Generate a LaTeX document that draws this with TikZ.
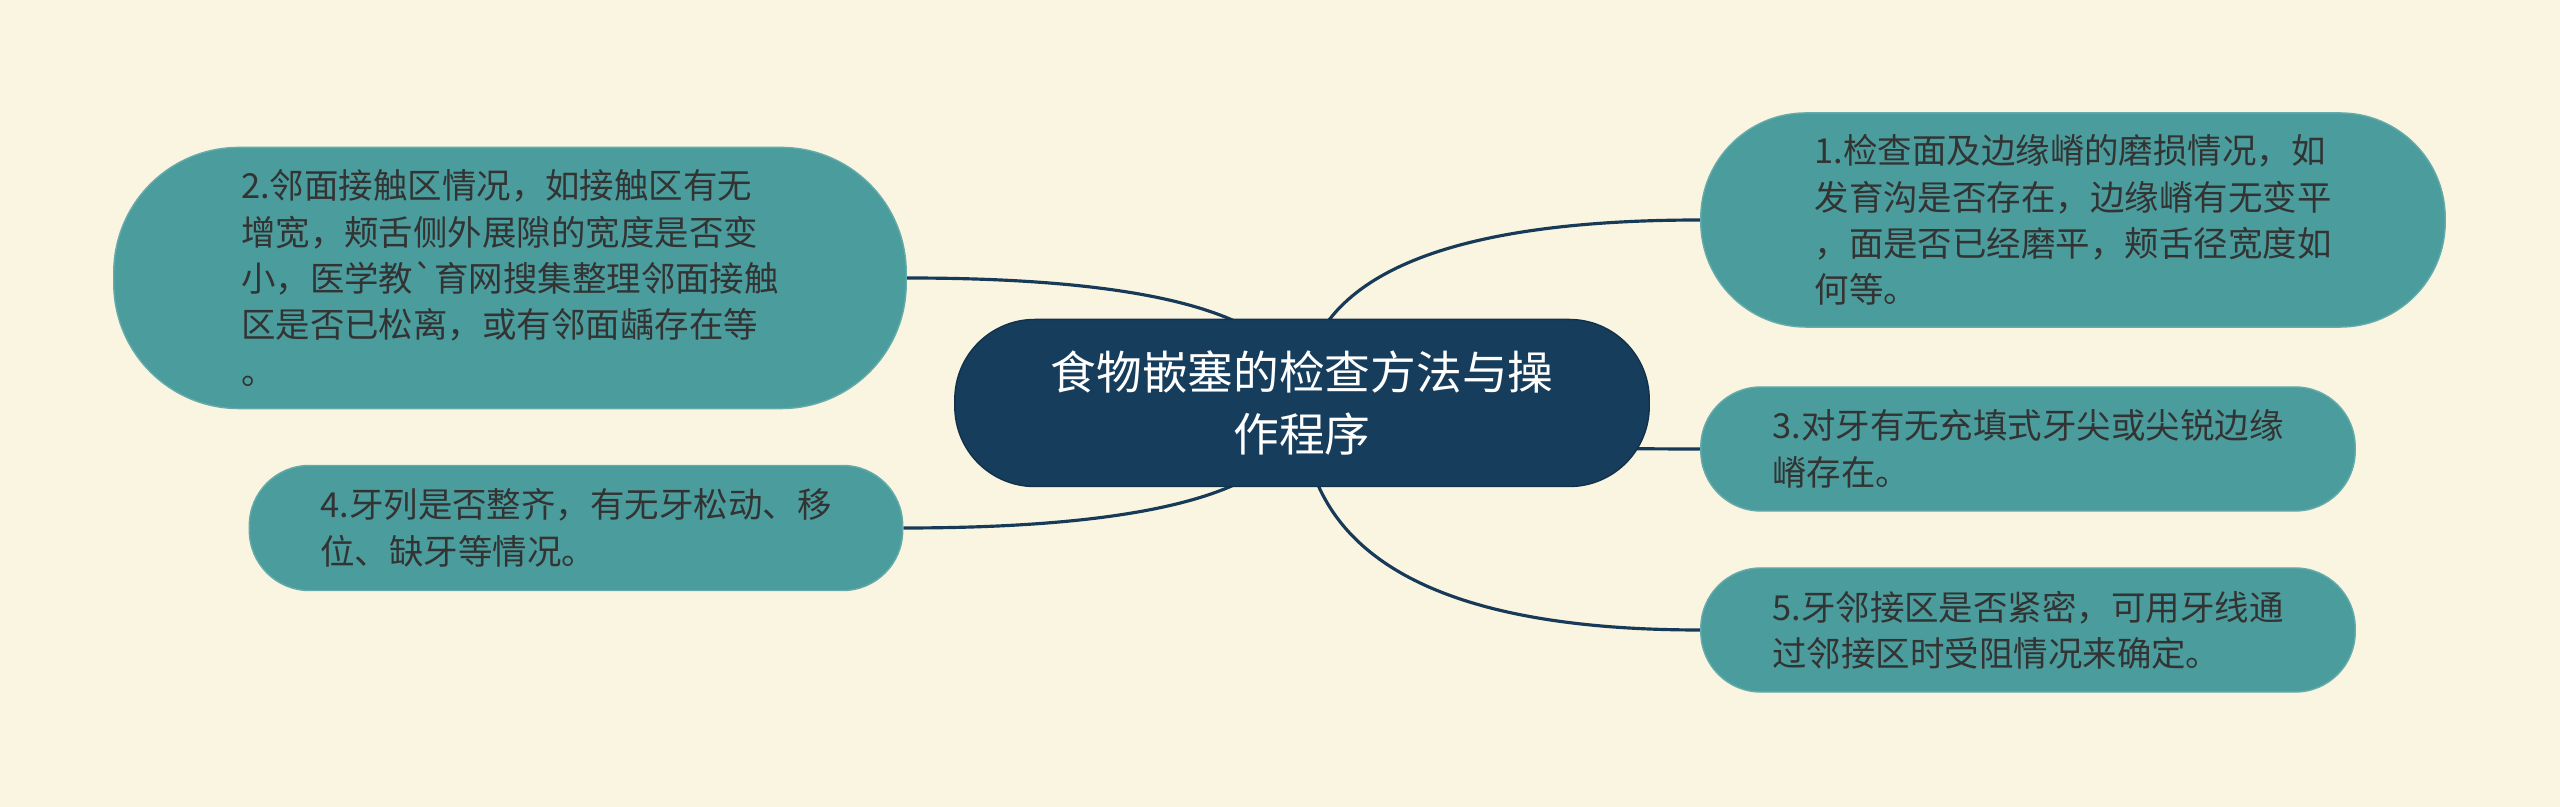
\documentclass[tikz,border=0pt]{standalone}
\usepackage{fontspec}
\newfontfamily\cjk{Noto Sans CJK SC}
\usetikzlibrary{backgrounds,calc}

\definecolor{bgcream}{HTML}{FAF5E0}
\definecolor{rootblue}{HTML}{173D5C}
\definecolor{leafteal}{HTML}{4B9C9C}
\definecolor{leaftext}{HTML}{333333}
\definecolor{linkblue}{HTML}{173A58}

\tikzset{
    topic/.style={fill=rootblue, draw=rootblue!80!black, line width=0.4pt, text=white,
        align=center, font=\cjk\fontsize{13}{17.6}\selectfont, inner sep=0pt},
    subtopic/.style={fill=leafteal, draw=leafteal!85!white, line width=0.4pt, text=leaftext,
        align=left, font=\cjk\fontsize{9.8}{13.2}\selectfont, inner sep=0pt},
    link/.style={draw=linkblue, line width=0.9pt}
}

\begin{document}
\begin{tikzpicture}[x=0.01cm, y=-0.01cm]

    % Central topic
    \node[topic, minimum width=6.94cm, minimum height=1.67cm, rounded corners=0.8cm] (root) at (1302,403)
        {食物嵌塞的检查方法与操\\作程序};

    % Right branches
    \node[subtopic, minimum width=7.44cm, minimum height=2.14cm, rounded corners=1.05cm] (check1) at (2073,220)
        {1.检查面及边缘嵴的磨损情况，如\\发育沟是否存在，边缘嵴有无变平\\，面是否已经磨平，颊舌径宽度如\\何等。};
    \node[subtopic, minimum width=6.54cm, minimum height=1.24cm, rounded corners=0.6cm] (check3) at (2028,449)
        {3.对牙有无充填式牙尖或尖锐边缘\\嵴存在。};
    \node[subtopic, minimum width=6.54cm, minimum height=1.24cm, rounded corners=0.6cm] (check5) at (2028,630)
        {5.牙邻接区是否紧密，可用牙线通\\过邻接区时受阻情况来确定。};

    % Left branches
    \node[subtopic, minimum width=7.92cm, minimum height=2.61cm, rounded corners=1.25cm] (check2) at (510,278)
        {2.邻面接触区情况，如接触区有无\\增宽，颊舌侧外展隙的宽度是否变\\小，医学教\char"60 育网搜集整理邻面接触\\区是否已松离，或有邻面龋存在等\\。};
    \node[subtopic, minimum width=6.53cm, minimum height=1.25cm, rounded corners=0.6cm] (check4) at (576,528)
        {4.牙列是否整齐，有无牙松动、移\\位、缺牙等情况。};

    % Connectors, behind the nodes (quadratic curves bent at the root's column)
    \begin{scope}[on background layer]
        \fill[bgcream] (0,0) rectangle (2560,807);
        \foreach \leaf/\side in {check1/west, check3/west, check5/west, check2/east, check4/east} {
            \coordinate (bend) at (root.center |- \leaf.\side);
            \draw[link] (root.center) .. controls ($(root.center)!0.667!(bend)$) and ($(\leaf.\side)!0.667!(bend)$) .. (\leaf.\side);
        }
    \end{scope}

\end{tikzpicture}
\end{document}
